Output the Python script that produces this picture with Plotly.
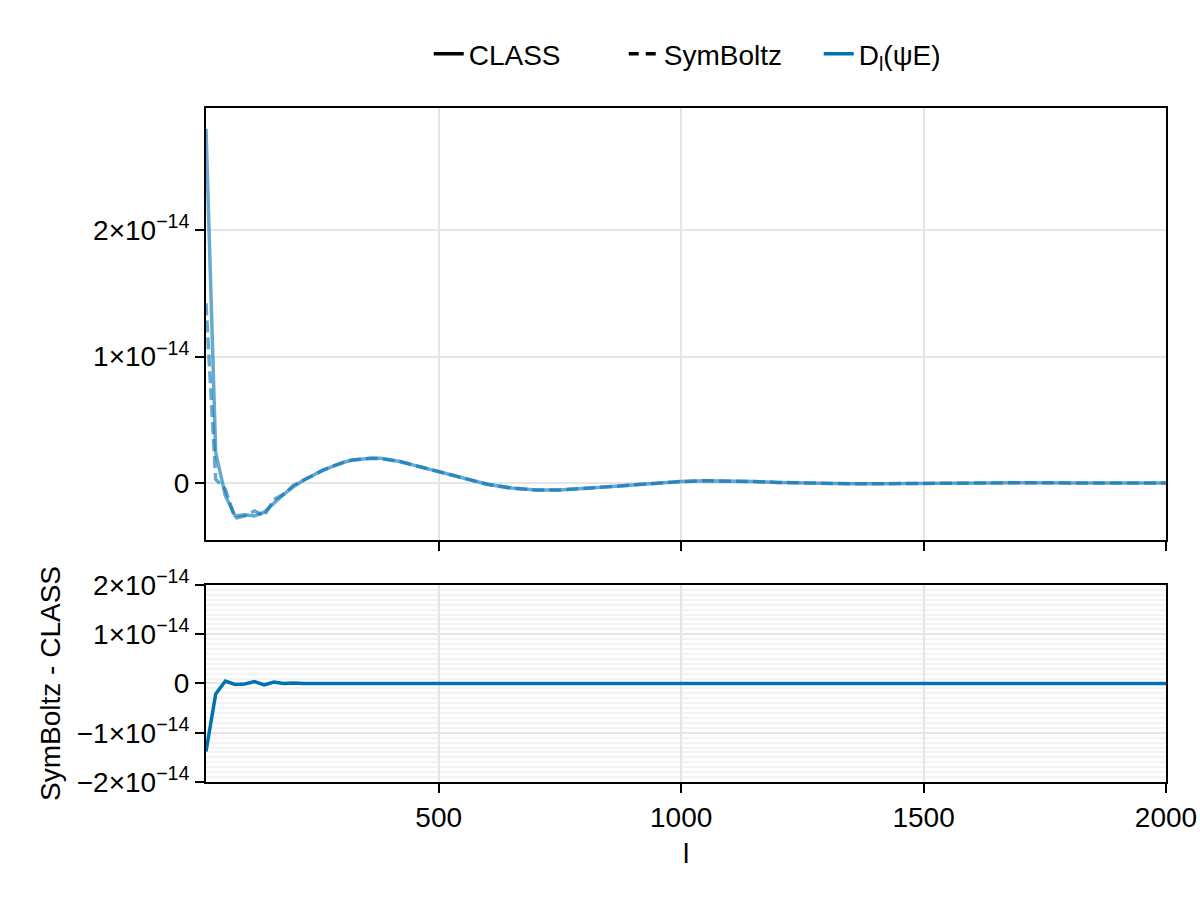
import numpy as np
import plotly.graph_objects as go

# multipole l
ell = [20, 40, 60, 80, 100, 120, 140, 160, 180, 200,
       220, 240, 260, 280, 300, 320, 340, 360, 380, 400, 420,
       450, 500, 550, 600, 650, 700, 750, 800, 850, 900, 950,
       1000, 1050, 1100, 1150, 1200, 1250, 1300, 1350, 1400, 1450, 1500,
       1600, 1700, 1800, 1900, 2000]

# D_l(psi E) in units of 1e-14
class_vals = [2.80, 0.24, -0.10, -0.26, -0.25, -0.26, -0.23, -0.16, -0.09, -0.03,
              0.02, 0.06, 0.10, 0.13, 0.16, 0.18, 0.19, 0.195, 0.195, 0.185, 0.17,
              0.14, 0.09, 0.04, -0.01, -0.04, -0.055, -0.055, -0.045, -0.03, -0.015, 0.0,
              0.012, 0.018, 0.017, 0.012, 0.005, 0.0, -0.004, -0.006, -0.006, -0.004, -0.002,
              0.001, 0.002, 0.001, 0.0, 0.0]
symboltz_vals = [1.42, 0.03, -0.05, -0.28, -0.26, -0.22, -0.26, -0.13, -0.09, -0.02,
                 0.02, 0.062, 0.098, 0.132, 0.158, 0.181, 0.19, 0.196, 0.194, 0.185, 0.17,
                 0.14, 0.09, 0.04, -0.01, -0.04, -0.055, -0.055, -0.045, -0.03, -0.015, 0.0,
                 0.012, 0.018, 0.017, 0.012, 0.005, 0.0, -0.004, -0.006, -0.006, -0.004, -0.002,
                 0.001, 0.002, 0.001, 0.0, 0.0]

SCALE = 1e-14
cls = np.array(class_vals) * SCALE
sym = np.array(symboltz_vals) * SCALE
diff = sym - cls

top_tickvals = [0, 1e-14, 2e-14]
top_ticktext = ["0", "1×10<sup>−14</sup>", "2×10<sup>−14</sup>"]
bot_tickvals = [-2e-14, -1e-14, 0, 1e-14, 2e-14]
bot_ticktext = ["−2×10<sup>−14</sup>", "−1×10<sup>−14</sup>", "0",
                "1×10<sup>−14</sup>", "2×10<sup>−14</sup>"]
x_tickvals = [500, 1000, 1500, 2000]

BLUE = "#0072B2"
BLUE_A = "rgba(0,114,178,0.6)"
FONT = "Liberation Sans, Arial, sans-serif"
TICK_SIZE = 28
TEXT_SIZE = 28

fig = go.Figure()

fig.add_trace(go.Scatter(x=ell, y=cls, mode="lines", showlegend=False,
                         line=dict(color=BLUE_A, width=3.5), xaxis="x", yaxis="y"))
fig.add_trace(go.Scatter(x=ell, y=sym, mode="lines", showlegend=False,
                         line=dict(color=BLUE_A, width=3.5, dash="12px,5px"), xaxis="x", yaxis="y"))
fig.add_trace(go.Scatter(x=ell, y=diff, mode="lines", showlegend=False,
                         line=dict(color=BLUE, width=3.5), xaxis="x2", yaxis="y2"))

# legend entries
fig.add_trace(go.Scatter(x=[None], y=[None], mode="lines", name="CLASS",
                         line=dict(color="black", width=3.5)))
fig.add_trace(go.Scatter(x=[None], y=[None], mode="lines", name="SymBoltz",
                         line=dict(color="black", width=3.5, dash="10px,7px")))
fig.add_trace(go.Scatter(x=[None], y=[None], mode="lines", name="D<sub>l</sub>(ψE)",
                         line=dict(color=BLUE, width=3.5)))

axis_common = dict(showline=True, linecolor="black", linewidth=2, mirror=True,
                   ticks="outside", ticklen=9, tickwidth=2, tickcolor="black",
                   gridcolor="#e5e5e5", gridwidth=1.5, zeroline=False, automargin=False,
                   tickfont=dict(size=TICK_SIZE, color="black", family=FONT))

fig.update_layout(
    width=1200, height=900,
    paper_bgcolor="white", plot_bgcolor="white",
    margin=dict(l=206, r=34, t=108, b=118),
    font=dict(family=FONT, size=TEXT_SIZE, color="black"),
    showlegend=True,
    legend=dict(orientation="h", x=0.232, xanchor="left", y=1.08, yanchor="middle",
                font=dict(size=TEXT_SIZE), bgcolor="rgba(0,0,0,0)",
                entrywidth=150, entrywidthmode="pixels"),
    xaxis=dict(domain=[0, 1], range=[20, 2000], anchor="y", tickvals=x_tickvals,
               showticklabels=False, **axis_common),
    yaxis=dict(domain=[0.3591, 1], range=[-0.45e-14, 2.964e-14], anchor="x",
               tickvals=top_tickvals, ticktext=top_ticktext, **axis_common),
    xaxis2=dict(domain=[0, 1], range=[20, 2000], anchor="y2", tickvals=x_tickvals,
                title=dict(text="l", font=dict(size=TEXT_SIZE), standoff=12), **axis_common),
    yaxis2=dict(domain=[0, 0.2923], range=[-2e-14, 2e-14], anchor="x2",
                tickvals=bot_tickvals, ticktext=bot_ticktext,
                title=dict(text="SymBoltz - CLASS", font=dict(size=TEXT_SIZE), standoff=8),
                minor=dict(dtick=1e-15, tickmode="linear", showgrid=True,
                           gridcolor="#f3f3f3", gridwidth=1.5, ticks=""),
                **axis_common),
)

fig.write_html("out.html")
